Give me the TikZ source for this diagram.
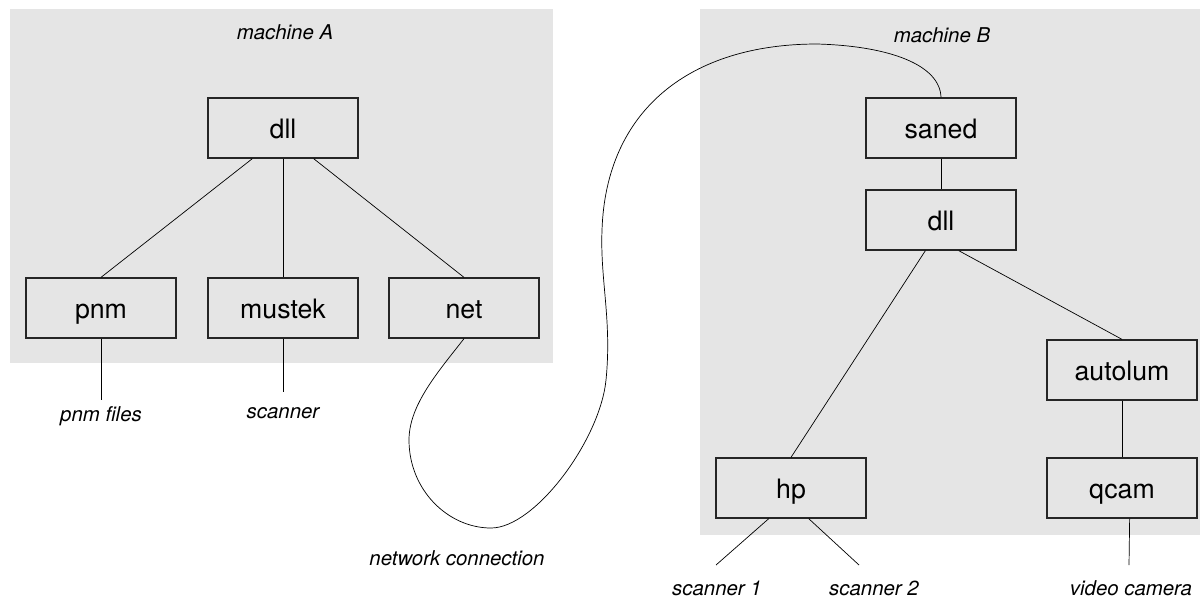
\documentclass[tikz,border=0pt]{standalone}
\usepackage{fontspec}
\setmainfont{TeX Gyre Heros}
\definecolor{machinegrey}{gray}{0.9}
\begin{document}
\begin{tikzpicture}[x=0.025cm, y=-0.025cm, line width=0.5pt,
	box/.style={rectangle, draw=black!85, line width=0.9pt, fill=machinegrey, minimum width=3.75cm, minimum height=1.5cm, inner sep=0pt, font=\fontsize{19}{19}\selectfont, text height=16pt, text depth=1pt},
	lbl/.style={anchor=base, font=\fontsize{14.5}{14.5}\selectfont\itshape}]
	\useasboundingbox (0, 0) rectangle (1200, 599);
	% machines
	\fill[machinegrey] (10, 9) rectangle (553, 363);
	\fill[machinegrey] (700, 9) rectangle (1200, 535);
	\node (mA) at (285, 39)	[lbl]	{machine A};
	\node (mB) at (942, 42)	[lbl]	{machine B};
	% backends on A
	\node (dllA) at (283, 128)	[box]	{dll};
	\node (pnm) at (101, 308)	[box]	{pnm};
	\node (mustek) at (283, 308)	[box]	{mustek};
	\node (net) at (464, 308)	[box]	{net};
	% backends on B
	\node (saned) at (941, 128)	[box]	{saned};
	\node (dllB) at (941, 220)	[box]	{dll};
	\node (hp) at (791, 488)	[box]	{hp};
	\node (autolum) at (1122, 370)	[box]	{autolum};
	\node (qcam) at (1122, 488)	[box]	{qcam};
	% devices
	\node (pnmfiles) at (101, 421)	[lbl]	{pnm files};
	\node (scanner) at (283, 418)	[lbl]	{scanner};
	\node (netconn) at (457, 565)	[lbl]	{network connection};
	\node (scanner1) at (717, 595)	[lbl]	{scanner 1};
	\node (scanner2) at (874, 595)	[lbl]	{scanner 2};
	\node (camera) at (1131, 595)	[lbl]	{video camera};
	\coordinate (pnmE) at (101, 400);
	\coordinate (mustekE) at (283, 392);
	\coordinate (hpE1) at (716, 565);
	\coordinate (hpE2) at (859, 565);
	\coordinate (qcamE) at (1129, 565);
	\draw (dllA.-135) -- (pnm.north);
	\draw (dllA) -- (mustek);
	\draw (dllA.-45) -- (net.north);
	\draw (pnm) -- (pnmE);
	\draw (mustek) -- (mustekE);
	\draw (saned) -- (dllB);
	\draw (dllB.-117) -- (hp.north);
	\draw (dllB.-60) -- (autolum.north);
	\draw (autolum) -- (qcam);
	\draw (hp.-126) -- (hpE1);
	\draw (hp.-60) -- (hpE2);
	\draw (qcam.-76) -- (qcamE);
	% network cable
	\draw (net.south) .. controls (438, 372) and (409, 405) .. (409, 440)
		.. controls (409, 490) and (448, 528) .. (491, 528)
		.. controls (535, 528) and (600, 440) .. (606, 380)
		.. controls (612, 320) and (600, 280) .. (602, 230)
		.. controls (606, 110) and (690, 44) .. (817, 44)
		.. controls (890, 46) and (940, 65) .. (saned.north);
\end{tikzpicture}
\end{document}
